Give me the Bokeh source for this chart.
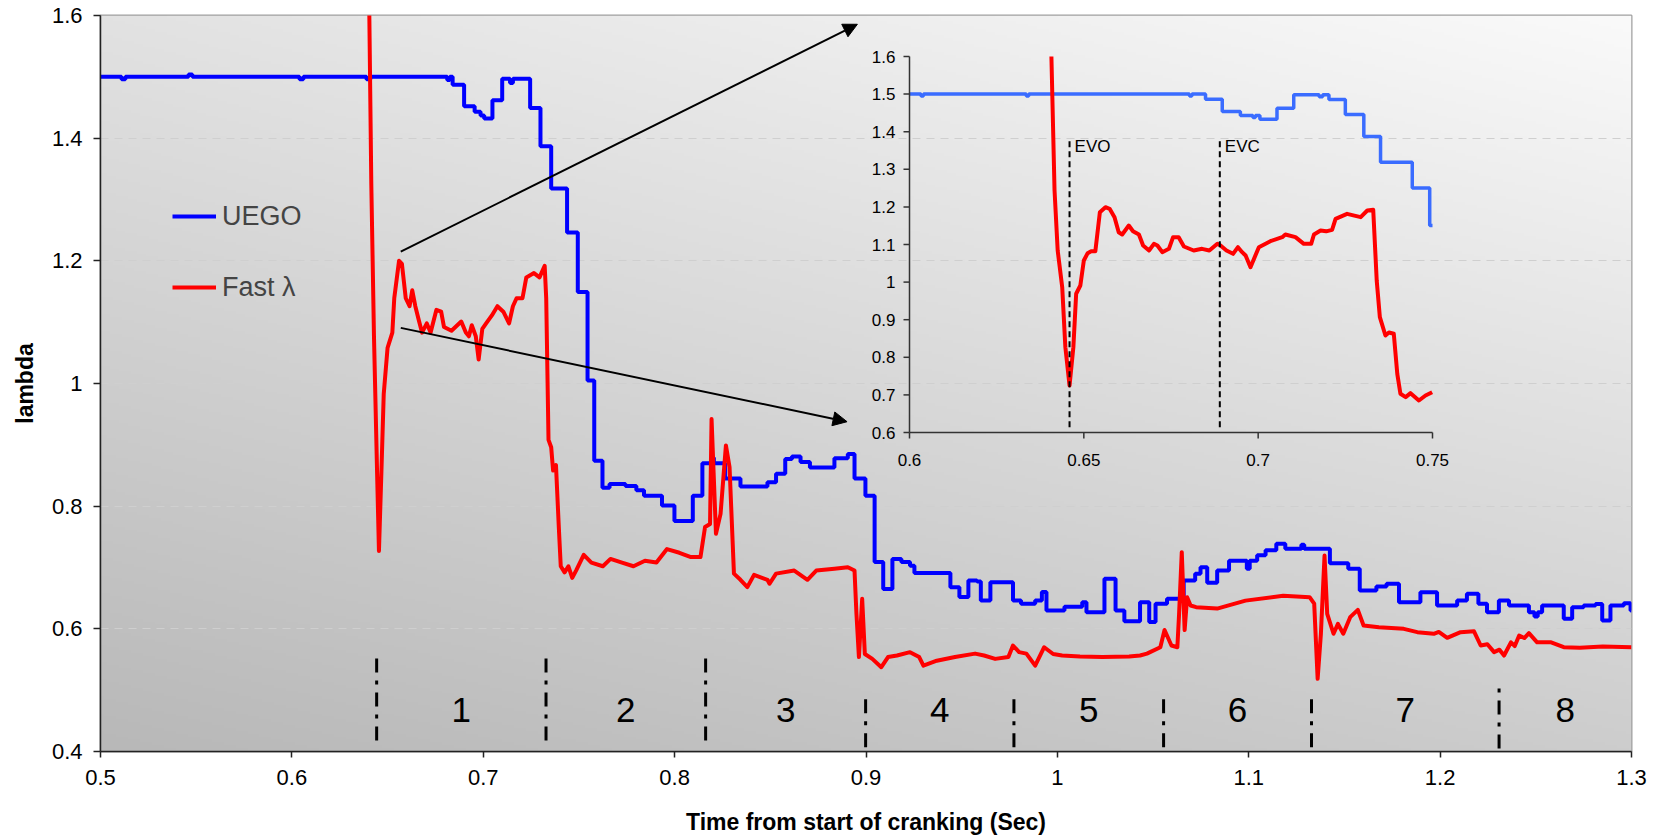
import numpy as np
from bokeh.plotting import figure
from bokeh.models import (Range1d, FixedTicker, Legend, LegendItem, Arrow,
                          NormalHead)
from bokeh.core.properties import value
from bokeh.embed import file_html
from bokeh.resources import INLINE

# ---------------- data ----------------
# UEGO (step change points: time, lambda)
uego_t = [0.500, 0.511, 0.513, 0.546, 0.548, 0.604, 0.606, 0.639, 0.641,
          0.6812, 0.6825, 0.684, 0.690, 0.6955, 0.6986, 0.7005, 0.7048, 0.7099,
          0.714, 0.7155, 0.7245, 0.7299, 0.7355, 0.7438, 0.7494, 0.7545, 0.758,
          0.7623, 0.766, 0.7743, 0.780, 0.784, 0.7934, 0.7999, 0.8095, 0.8145,
          0.819, 0.8205, 0.8264, 0.8344, 0.8485, 0.853, 0.8578, 0.8613, 0.8658,
          0.8707, 0.8835, 0.8905, 0.894, 0.8997, 0.9045, 0.909, 0.9138, 0.9185,
          0.923, 0.9253, 0.9441, 0.9488, 0.9535, 0.958, 0.960, 0.965, 0.9768,
          0.981, 0.9884, 0.9919, 0.9943, 1.0037, 1.013, 1.0152, 1.0246, 1.0304,
          1.035, 1.0432, 1.048, 1.0513, 1.0573, 1.066, 1.072, 1.0748, 1.0783,
          1.0835, 1.0897, 1.099, 1.1005, 1.1044, 1.1088, 1.1144, 1.1191, 1.1275,
          1.129, 1.1424, 1.152, 1.158, 1.1667, 1.172, 1.1785, 1.1897, 1.1984,
          1.2089, 1.214, 1.220, 1.2245, 1.2307, 1.236, 1.2464, 1.2493, 1.251,
          1.2533, 1.2646, 1.269, 1.275, 1.2812, 1.2847, 1.289, 1.296, 1.2995, 1.300]
uego_v = [1.500, 1.496, 1.500, 1.504, 1.500, 1.496, 1.500, 1.496, 1.500,
          1.495, 1.500, 1.487, 1.452, 1.443, 1.437, 1.432, 1.462, 1.497,
          1.490, 1.497, 1.449, 1.387, 1.318, 1.246, 1.149, 1.005, 0.874,
          0.830, 0.836, 0.833, 0.826, 0.817, 0.801, 0.776, 0.817, 0.870,
          0.879, 0.870, 0.845, 0.832, 0.839, 0.853, 0.877, 0.881, 0.872,
          0.863, 0.878, 0.885, 0.845, 0.817, 0.709, 0.665, 0.714, 0.709,
          0.703, 0.691, 0.668, 0.652, 0.679, 0.677, 0.646, 0.676, 0.646,
          0.641, 0.646, 0.660, 0.630, 0.636, 0.6435, 0.627, 0.6815, 0.630,
          0.6125, 0.6435, 0.611, 0.641, 0.649, 0.679, 0.690, 0.7005, 0.675,
          0.695, 0.711, 0.698, 0.711, 0.720, 0.728, 0.7387, 0.7305, 0.737,
          0.7305, 0.707, 0.698, 0.6625, 0.669, 0.6734, 0.6435, 0.6598, 0.638,
          0.6462, 0.657, 0.6408, 0.627, 0.6462, 0.638, 0.627, 0.620, 0.627,
          0.638, 0.6163, 0.6353, 0.638, 0.6405, 0.6136, 0.638, 0.6418, 0.630, 0.630]

# Fast lambda
fast_t = [0.6404, 0.6415, 0.6429, 0.6445, 0.6455, 0.6468, 0.648, 0.650, 0.6525,
          0.6535, 0.656, 0.6575, 0.6595, 0.6615, 0.6629, 0.6645, 0.6665, 0.668,
          0.6705, 0.6725, 0.6755, 0.678, 0.6795, 0.6834, 0.6885, 0.6909, 0.6925,
          0.694, 0.6961, 0.6976, 0.6995, 0.7015, 0.7045, 0.7074, 0.7105, 0.7135,
          0.7155, 0.7174, 0.7205, 0.7225, 0.7265, 0.7294, 0.7321, 0.7329, 0.7341,
          0.7355, 0.7365, 0.738, 0.7395, 0.7405, 0.7425, 0.7445, 0.7465, 0.7485,
          0.7525, 0.7565, 0.7625, 0.7665, 0.7725, 0.7785, 0.7845, 0.7905, 0.796,
          0.8025, 0.8085, 0.8135, 0.8159, 0.8185, 0.8193, 0.8216, 0.824, 0.8268,
          0.8287, 0.831, 0.8344, 0.838, 0.8415, 0.8485, 0.8496, 0.853, 0.8625,
          0.8694, 0.874, 0.8835, 0.8905, 0.894, 0.895, 0.8963, 0.898, 0.8994,
          0.9033, 0.908, 0.9115, 0.9162, 0.923, 0.9278, 0.930, 0.937, 0.9465,
          0.957, 0.9617, 0.9675, 0.9744, 0.9768, 0.980, 0.9838, 0.9884, 0.9931,
          0.9978, 1.0025, 1.0118, 1.0235, 1.0375, 1.0432, 1.0468, 1.0538, 1.056,
          1.0596, 1.0627, 1.0636, 1.065, 1.0665, 1.0678, 1.0696, 1.0725, 1.0835,
          1.0983, 1.118, 1.1318, 1.1342, 1.136, 1.1377, 1.1396, 1.141, 1.1443,
          1.1466, 1.1494, 1.153, 1.157, 1.160, 1.168, 1.181, 1.1881, 1.1967,
          1.1993, 1.2037, 1.2107, 1.2177, 1.2212, 1.2247, 1.2282, 1.231, 1.2334,
          1.237, 1.239, 1.2413, 1.244, 1.2464, 1.2507, 1.258, 1.2646, 1.273,
          1.285, 1.300]
fast_v = [1.62, 1.326, 1.077, 0.858, 0.727, 0.858, 0.983, 1.058, 1.083,
          1.139, 1.200, 1.195, 1.139, 1.126, 1.152, 1.126, 1.101, 1.083,
          1.098, 1.083, 1.120, 1.117, 1.092, 1.086, 1.101, 1.083, 1.077,
          1.095, 1.077, 1.039, 1.089, 1.098, 1.111, 1.126, 1.117, 1.098,
          1.126, 1.139, 1.139, 1.173, 1.180, 1.173, 1.192, 1.139, 0.908,
          0.896, 0.858, 0.867, 0.7645, 0.702, 0.692, 0.702, 0.683, 0.695,
          0.7207, 0.708, 0.702, 0.714, 0.708, 0.702, 0.711, 0.708, 0.730,
          0.724, 0.717, 0.717, 0.766, 0.771, 0.942, 0.755, 0.7875, 0.899,
          0.8636, 0.690, 0.680, 0.668, 0.688, 0.680, 0.6735, 0.690, 0.695,
          0.680, 0.695, 0.698, 0.7005, 0.695, 0.625, 0.554, 0.649, 0.559,
          0.551, 0.5375, 0.554, 0.5565, 0.562, 0.554, 0.540, 0.548, 0.554,
          0.5596, 0.5565, 0.551, 0.554, 0.5728, 0.562, 0.5596, 0.540, 0.570,
          0.559, 0.5565, 0.555, 0.554, 0.555, 0.5565, 0.5596, 0.570, 0.598,
          0.5728, 0.570, 0.6245, 0.725, 0.598, 0.6516, 0.638, 0.6353, 0.633,
          0.646, 0.654, 0.6516, 0.641, 0.5185, 0.592, 0.7196, 0.6245, 0.592,
          0.608, 0.592, 0.619, 0.631, 0.6055, 0.6027, 0.600, 0.5946, 0.5919,
          0.595, 0.5853, 0.5946, 0.596, 0.5728, 0.575, 0.562, 0.566, 0.5565,
          0.578, 0.572, 0.589, 0.585, 0.593, 0.578, 0.578, 0.570, 0.569,
          0.571, 0.570]

# inset (zoom 0.6 - 0.75 s)
inset_uego_t = [0.600, 0.6033, 0.6040, 0.6335, 0.6342, 0.6803, 0.6810, 0.6849,
                0.6897, 0.6949, 0.6985, 0.6992, 0.7005, 0.7054, 0.7102, 0.7175,
                0.7185, 0.7203, 0.725, 0.7303, 0.7351, 0.7442, 0.7492, 0.7500]
inset_uego_v = [1.500, 1.495, 1.500, 1.495, 1.500, 1.495, 1.500, 1.486,
                1.454, 1.443, 1.438, 1.443, 1.433, 1.4626, 1.498, 1.493,
                1.498, 1.4856, 1.4457, 1.387, 1.319, 1.250, 1.1505, 1.1505]
inset_fast_t = [0.6407, 0.6416, 0.6425, 0.6438, 0.6447, 0.6459, 0.647, 0.6478,
                0.649, 0.650, 0.6511, 0.6521, 0.6533, 0.6546, 0.6562, 0.6574,
                0.6588, 0.660, 0.661, 0.6629, 0.6641, 0.6658, 0.667, 0.6687,
                0.6701, 0.6711, 0.6725, 0.6744, 0.6756, 0.6772, 0.6787, 0.6815,
                0.6839, 0.686, 0.6883, 0.6892, 0.6909, 0.6928, 0.6942, 0.6954,
                0.6964, 0.6978, 0.7002, 0.7035, 0.7069, 0.7078, 0.7107, 0.7131,
                0.7152, 0.716, 0.7179, 0.7195, 0.7212, 0.7222, 0.7255, 0.7294,
                0.7313, 0.733, 0.734, 0.7349, 0.7365, 0.7375, 0.7389, 0.7399,
                0.7408, 0.7423, 0.7437, 0.7461, 0.748, 0.7499]
inset_fast_v = [1.600, 1.2436, 1.084, 0.9865, 0.827, 0.725, 0.827, 0.969,
                0.991, 1.0574, 1.0769, 1.0822, 1.0822, 1.1859, 1.1992, 1.195,
                1.1726, 1.1327, 1.1266, 1.1505, 1.1354, 1.1266, 1.0973, 1.084,
                1.1018, 1.0973, 1.0796, 1.0885, 1.1195, 1.1195, 1.0947, 1.084,
                1.0885, 1.084, 1.1018, 1.0973, 1.084, 1.0752, 1.0929, 1.0796,
                1.0707, 1.0397, 1.0929, 1.1088, 1.1195, 1.1266, 1.1195, 1.1018,
                1.1018, 1.1266, 1.1372, 1.135, 1.139, 1.1683, 1.1816, 1.1727,
                1.1904, 1.1922, 1.0043, 0.9067, 0.858, 0.866, 0.8625, 0.756,
                0.7029, 0.694, 0.7046, 0.6851, 0.6984, 0.7072]

# cycle segments
segment_bounds = [0.6443, 0.7328, 0.8162, 0.8998, 0.9773, 1.0555, 1.1328, 1.2308]
segment_top = [0.563, 0.563, 0.563, 0.490, 0.490, 0.490, 0.490, 0.506]
segment_bottom = [0.418, 0.418, 0.418, 0.407, 0.407, 0.407, 0.407, 0.405]
segment_labels = ["1", "2", "3", "4", "5", "6", "7", "8"]

# valve events in inset
event_t = [0.6459, 0.6890]
event_labels = ["EVO", "EVC"]
event_top = 1.381
event_bottom = 0.614

x_ticks = [0.5, 0.6, 0.7, 0.8, 0.9, 1.0, 1.1, 1.2, 1.3]
x_tick_labels = ["0.5", "0.6", "0.7", "0.8", "0.9", "1", "1.1", "1.2", "1.3"]
y_ticks = [0.4, 0.6, 0.8, 1.0, 1.2, 1.4, 1.6]
y_tick_labels = ["0.4", "0.6", "0.8", "1", "1.2", "1.4", "1.6"]
inset_x_ticks = [0.6, 0.65, 0.7, 0.75]
inset_x_tick_labels = ["0.6", "0.65", "0.7", "0.75"]
inset_y_ticks = [0.6, 0.7, 0.8, 0.9, 1.0, 1.1, 1.2, 1.3, 1.4, 1.5, 1.6]
inset_y_tick_labels = ["0.6", "0.7", "0.8", "0.9", "1", "1.1", "1.2", "1.3",
                       "1.4", "1.5", "1.6"]

# ---------------- layout constants ----------------
W, H = 1653, 838
FL, FR, FT, FB = 100, 1631, 15, 751          # main frame (px)
IL, IR, IT, IB = 909, 1432, 56, 432          # inset frame (px)
X0, X1, Y0, Y1 = 0.5, 1.3, 0.4, 1.6
IX0, IX1, IY0, IY1 = 0.6, 0.75, 0.6, 1.6
FONT = "Liberation Sans"
LABEL_Y = 0.4676


def extra_range(a0, a1, p0, p1, f0, f1):
    s = (a1 - a0) / (p1 - p0)
    return Range1d(start=a0 + (f0 - p0) * s, end=a0 + (f1 - p0) * s)


p = figure(width=W, height=H, x_range=Range1d(X0, X1), y_range=Range1d(Y0, Y1),
           output_backend="svg", toolbar_location=None, title=None,
           min_border_left=FL, min_border_right=W - FR,
           min_border_top=FT, min_border_bottom=H - FB)
p.extra_x_ranges = {"ix": extra_range(IX0, IX1, IL, IR, FL, FR)}
p.extra_y_ranges = {"iy": extra_range(IY0, IY1, -IB, -IT, -FB, -FT)}

p.border_fill_color = "white"
p.background_fill_color = "#d8d8d8"
p.outline_line_color = "#a0a0a0"
p.outline_line_width = 2

# gradient background (dark bottom-left -> light top-right)
ny, nx = 256, 512
u = np.linspace(0, 1, nx)[None, :]
w = np.linspace(0, 1, ny)[:, None]
c00, c10, c01, c11 = 184.0, 205.0, 226.0, 250.0
g = c00 * (1 - u) * (1 - w) + c10 * u * (1 - w) + c01 * (1 - u) * w + c11 * u * w
img = np.empty((ny, nx), dtype=np.uint32)
view = img.view(dtype=np.uint8).reshape((ny, nx, 4))
view[:, :, 0] = g.astype(np.uint8)
view[:, :, 1] = g.astype(np.uint8)
view[:, :, 2] = g.astype(np.uint8)
view[:, :, 3] = 255
p.image_rgba(image=[img], x=X0, y=Y0, dw=X1 - X0, dh=Y1 - Y0, level="image")

# grid
p.xgrid.visible = False
p.ygrid.ticker = FixedTicker(ticks=y_ticks)
p.ygrid.grid_line_color = "#cfcfcf"
p.ygrid.grid_line_dash = "8 6"
p.ygrid.grid_line_width = 1

# axes
for ax in (p.xaxis[0], p.yaxis[0]):
    ax.axis_line_color = "#222222"
    ax.axis_line_width = 1.5
    ax.major_tick_line_color = "#222222"
    ax.major_tick_line_width = 1.5
    ax.major_tick_in = 0
    ax.minor_tick_line_color = None
    ax.major_label_text_font = FONT
    ax.major_label_text_font_size = "22px"
    ax.major_label_text_color = "black"
    ax.axis_label_text_font = FONT
    ax.axis_label_text_font_size = "23px"
    ax.axis_label_text_font_style = "bold"
    ax.axis_label_text_color = "black"
p.xaxis.ticker = FixedTicker(ticks=x_ticks)
p.xaxis.major_label_overrides = dict(zip(x_ticks, x_tick_labels))
p.xaxis.major_tick_out = 6
p.xaxis.major_label_standoff = 12
p.xaxis.axis_label = "Time from start of cranking (Sec)"
p.xaxis.axis_label_standoff = 21
p.yaxis.ticker = FixedTicker(ticks=y_ticks)
p.yaxis.major_label_overrides = dict(zip(y_ticks, y_tick_labels))
p.yaxis.major_tick_out = 7
p.yaxis.major_label_standoff = 11
p.yaxis.axis_label = "lambda"
p.yaxis.axis_label_standoff = 11

# main series
r_u = p.step(uego_t, uego_v, mode="after", line_color="#0000ff", line_width=4)
r_f = p.line(fast_t, fast_v, line_color="#ff0000", line_width=4,
             line_join="round")

# cycle separators and numbers
p.segment(x0=segment_bounds, y0=segment_bottom, x1=segment_bounds, y1=segment_top,
          line_color="black", line_width=3, line_dash="14 8 4 8")
mids = [(a + b) / 2 for a, b in zip(segment_bounds, segment_bounds[1:] + [X1])]
p.text(x=mids, y=[LABEL_Y] * len(mids), text=segment_labels,
       text_font=value(FONT), text_font_size="35px", text_color="black",
       text_align="center", text_baseline="middle")

# legend
legend = Legend(items=[LegendItem(label="UEGO", renderers=[r_u]),
                       LegendItem(label="Fast λ", renderers=[r_f])],
                location=(72, 446), background_fill_alpha=0, border_line_alpha=0,
                label_text_font=FONT, label_text_font_size="27px",
                glyph_width=44, glyph_height=36, label_height=36,
                label_standoff=6, spacing=35, padding=0, margin=0)
p.add_layout(legend)

# ---------------- inset ----------------
ik = dict(x_range_name="ix", y_range_name="iy")
xpp = (IR - IL) / (IX1 - IX0)
ypp = (IB - IT) / (IY1 - IY0)
p.step(inset_uego_t, inset_uego_v, mode="after", line_color="#3a6cff",
       line_width=3.5, **ik)
p.line(inset_fast_t, inset_fast_v, line_color="#ff0000", line_width=4,
       line_join="round", **ik)
p.segment(x0=event_t, y0=[event_bottom] * 2, x1=event_t, y1=[event_top] * 2,
          line_color="black", line_width=2, line_dash="6 4", **ik)
p.text(x=event_t, y=[event_top] * 2, text=event_labels, x_offset=5, y_offset=-2,
       text_font=value(FONT), text_font_size="17px", text_color="black",
       text_align="left", text_baseline="top", **ik)
# inset axes
p.segment(x0=[IX0, IX0], y0=[IY0, IY0], x1=[IX1, IX0], y1=[IY0, IY1],
          line_color="#333333", line_width=1.5, **ik)
p.segment(x0=inset_x_ticks, y0=[IY0] * len(inset_x_ticks), x1=inset_x_ticks,
          y1=[IY0 - 6 / ypp] * len(inset_x_ticks), line_color="#333333",
          line_width=1.5, **ik)
p.segment(x0=[IX0] * len(inset_y_ticks), y0=inset_y_ticks,
          x1=[IX0 - 6 / xpp] * len(inset_y_ticks), y1=inset_y_ticks,
          line_color="#333333", line_width=1.5, **ik)
p.text(x=inset_x_ticks, y=[IY0] * len(inset_x_ticks), text=inset_x_tick_labels,
       y_offset=27, text_font=value(FONT), text_font_size="17px",
       text_color="black", text_align="center", text_baseline="middle", **ik)
p.text(x=[IX0] * len(inset_y_ticks), y=inset_y_ticks, text=inset_y_tick_labels,
       x_offset=-14, text_font=value(FONT), text_font_size="17px",
       text_color="black", text_align="right", text_baseline="middle", **ik)

# arrows from main trace to inset
head = dict(size=14, fill_color="black", line_color="black")
p.add_layout(Arrow(x_start=0.6569, y_start=1.215, x_end=0.8955, y_end=1.5857,
                   line_width=2, line_color="black", end=NormalHead(**head)))
p.add_layout(Arrow(x_start=0.6569, y_start=1.0907, x_end=0.8901, y_end=0.9377,
                   line_width=2, line_color="black", end=NormalHead(**head)))

open("out.html", "w").write(file_html(p, INLINE))
